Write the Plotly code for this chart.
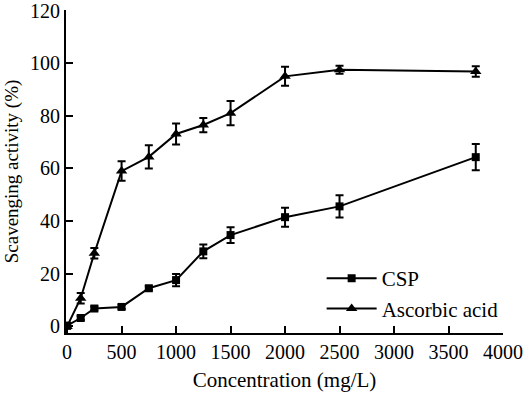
import plotly.graph_objects as go

conc = [0, 125, 250, 500, 750, 1000, 1250, 1500, 2000, 2500, 3750]
csp = [0.3, 3.2, 6.8, 7.4, 14.5, 17.6, 28.5, 34.7, 41.5, 45.6, 64.3]
csp_err = [1.0, 0.8, 0.8, 0.8, 0.8, 2.3, 2.6, 3.0, 3.6, 4.2, 5.0]
asc = [0.0, 10.7, 27.8, 59.0, 64.4, 73.1, 76.5, 81.0, 95.0, 97.5, 96.8]
asc_err = [0.8, 2.0, 2.0, 3.7, 4.4, 4.0, 2.7, 4.6, 3.6, 1.5, 2.0]

FONT = "Liberation Serif, Times New Roman, DejaVu Serif, serif"

fig = go.Figure()
fig.add_trace(go.Scatter(
    x=conc, y=csp, name="CSP", mode="lines+markers",
    line=dict(color="black", width=2),
    marker=dict(symbol="square", size=8, color="black"),
    error_y=dict(type="data", array=csp_err, visible=True, color="black", thickness=2, width=4),
))
fig.add_trace(go.Scatter(
    x=conc, y=asc, name="Ascorbic acid", mode="lines+markers",
    line=dict(color="black", width=2),
    marker=dict(symbol="triangle-up", size=10, color="black"),
    error_y=dict(type="data", array=asc_err, visible=True, color="black", thickness=2, width=4),
))

fig.update_layout(
    width=526, height=398,
    margin=dict(l=66, r=23, t=10, b=65),
    paper_bgcolor="white", plot_bgcolor="white",
    font=dict(family=FONT, size=20, color="black"),
    showlegend=True,
    legend=dict(x=0.585, y=0.012, xanchor="left", yanchor="bottom",
                font=dict(family=FONT, size=21, color="black"),
                bgcolor="rgba(0,0,0,0)", tracegroupgap=0, itemwidth=50),
)
fig.update_xaxes(
    range=[-10, 4000], tickvals=[0, 500, 1000, 1500, 2000, 2500, 3000, 3500, 4000],
    showline=True, linecolor="black", linewidth=2, mirror=False,
    ticks="inside", ticklen=7, tickwidth=2, tickcolor="black",
    showgrid=False, zeroline=False, automargin=False, ticklabeloverflow="allow",
    title=dict(text="Concentration (mg/L)", font=dict(family=FONT, size=21), standoff=10),
    tickfont=dict(family=FONT, size=20),
)
fig.update_yaxes(
    range=[-2.5, 120.2], tickvals=[0, 20, 40, 60, 80, 100, 120],
    showline=True, linecolor="black", linewidth=2, mirror=False,
    ticks="inside", ticklen=7, tickwidth=2, tickcolor="black",
    showgrid=False, zeroline=False, automargin=False, ticklabeloverflow="allow",
    title=dict(text="Scavenging activity (%)", font=dict(family=FONT, size=19), standoff=6),
    tickfont=dict(family=FONT, size=20),
)

fig.write_html("out.html", config={"displayModeBar": False},
               post_script="document.body.style.margin='0';")
